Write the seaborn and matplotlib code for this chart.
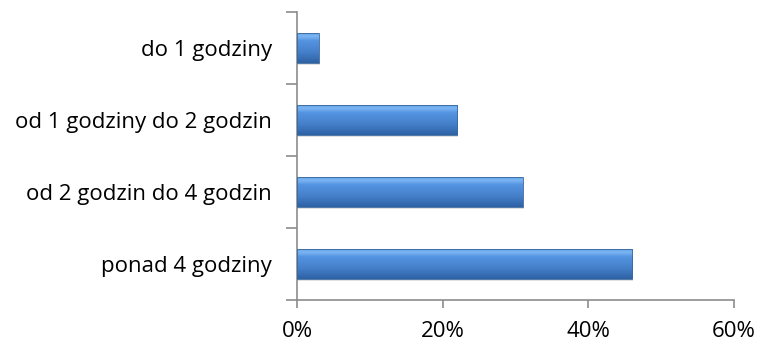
import numpy as np
import pandas as pd
import matplotlib
matplotlib.use("Agg")
import matplotlib.pyplot as plt
import seaborn as sns
from matplotlib.ticker import FixedLocator, PercentFormatter

categories = ["do 1 godziny", "od 1 godziny do 2 godzin", "od 2 godzin do 4 godzin", "ponad 4 godziny"]
shares = [3, 22, 31, 46]
x_ticks = [0, 20, 40, 60]

sns.set_theme(style="white")
plt.rcParams["font.family"] = ["Open Sans", "DejaVu Sans"]

df = pd.DataFrame({"kategoria": categories, "udzial": shares})

fig = plt.figure(figsize=(7.6, 3.44), dpi=100)
ax = fig.add_axes([297 / 760, 44 / 344, 437 / 760, 288 / 344])

sns.barplot(data=df, x="udzial", y="kategoria", orient="h", width=0.42,
            color="#4f81bd", saturation=1, ax=ax, zorder=2)

# vertical gradient fill with a light upper rim, clipped to each bar
grad = np.linspace(0, 1, 256)
stops = [(0.0, (0.18, 0.38, 0.64)), (0.35, (0.27, 0.50, 0.79)),
         (0.72, (0.33, 0.58, 0.88)), (0.86, (0.48, 0.71, 0.95)),
         (1.0, (0.38, 0.62, 0.90))]
pos = [s[0] for s in stops]
rgb = np.stack([np.interp(grad, pos, [s[1][i] for s in stops]) for i in range(3)], axis=-1)
img = rgb[:, None, :]
for p in ax.patches:
    x0, y0 = p.get_x(), p.get_y()
    w, h = p.get_width(), p.get_height()
    # soft drop shadow
    ax.add_patch(plt.Rectangle((x0 + 0.15, y0 + 0.03), w, h, color="#000000",
                               alpha=0.12, zorder=1, lw=0))
    im = ax.imshow(img, extent=[x0, x0 + w, y0 + h, y0], origin="lower",
                   aspect="auto", zorder=3, interpolation="bilinear")
    im.set_clip_path(p)
    p.set_edgecolor("#3a689f")
    p.set_linewidth(0.6)
    p.set_zorder(4)
    p.set_facecolor("none")

ax.set_xlim(0, 60)
ax.set_ylim(3.5, -0.5)
ax.xaxis.set_major_locator(FixedLocator(x_ticks))
ax.xaxis.set_major_formatter(PercentFormatter(decimals=0))
ax.set_xlabel("")
ax.set_ylabel("")

for side in ["top", "right"]:
    ax.spines[side].set_visible(False)
for side in ["left", "bottom"]:
    ax.spines[side].set_color("#8c8c8c")
    ax.spines[side].set_linewidth(1.2)

ax.yaxis.set_minor_locator(FixedLocator([-0.5, 0.5, 1.5, 2.5, 3.5]))
ax.tick_params(axis="y", which="major", length=0, pad=18, labelsize=16, colors="black")
ax.tick_params(axis="y", which="minor", left=True, length=8, width=1.2, color="#8c8c8c")
ax.tick_params(axis="x", which="major", bottom=True, length=6, width=1.2,
               color="#8c8c8c", pad=9, labelsize=16, labelcolor="black")

fig.savefig("out.png", dpi=100)
